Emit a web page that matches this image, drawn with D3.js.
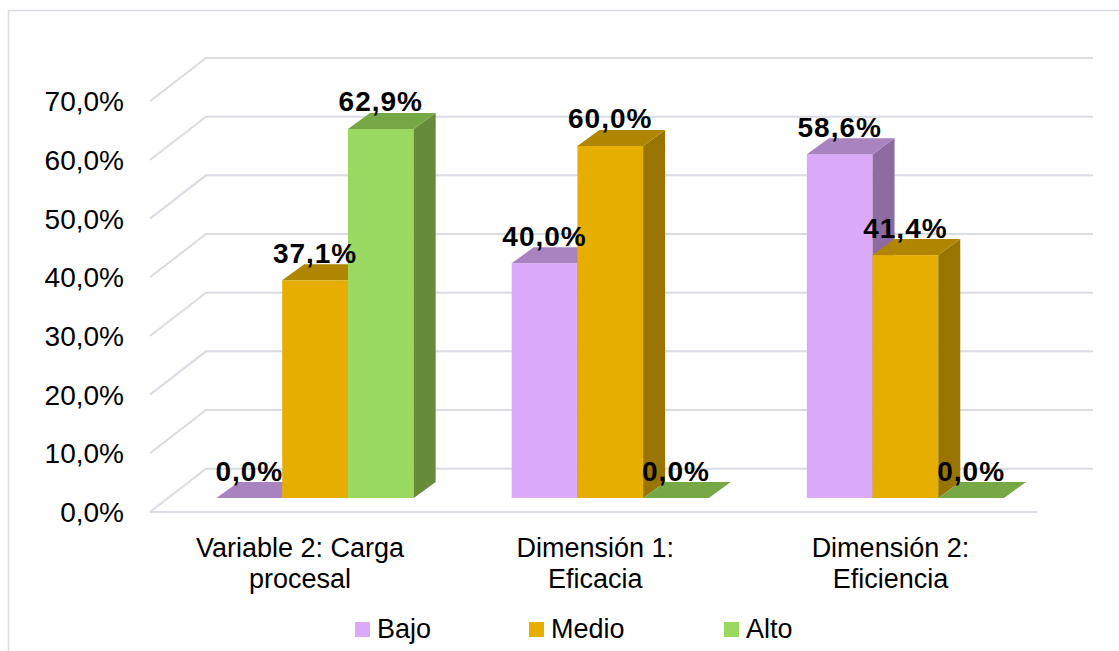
<!DOCTYPE html>
<html>
<head>
<meta charset="utf-8">
<script src="https://cdn.jsdelivr.net/npm/d3@7"></script>
<style>
  body { margin: 0; background: #fff; }
  text { font-family: "Liberation Sans", Arial, sans-serif; fill: #000; }
</style>
</head>
<body>
<div id="chart"></div>
<script>

const categories = [["Variable 2: Carga", "procesal"], ["Dimensión 1:", "Eficacia"], ["Dimensión 2:", "Eficiencia"]] ;
const series = ["Bajo", "Medio", "Alto"] ;
const bajo  = [0.0, 40.0, 58.6] ;
const medio = [37.1, 60.0, 41.4] ;
const alto  = [62.9, 0.0, 0.0] ;
const yTicks = [0, 10, 20, 30, 40, 50, 60, 70] ;

// front / top / side colours per series
const colors = {
  "Bajo":  {front: "#DAAAF9", top: "#A983BF", side: "#8D6BA1"},
  "Medio": {front: "#E6AF00", top: "#B08600", side: "#997400"},
  "Alto":  {front: "#99D960", top: "#76A845", side: "#668B3B"},
} ;

const values = {"Bajo": bajo, "Medio": medio, "Alto": alto} ;
const catKeys = categories.map((d) => d.join(" ")) ;

let dimensions = {
  width: 1119,
  height: 651,
}

const svg = d3.select("#chart").append("svg")
    .attr("width", dimensions.width)
    .attr("height", dimensions.height)
;

// outer frame (cut off on the right and bottom)
svg.append("path")
  .attr("d", "M8.5,660 L8.5,10.5 L1130,10.5")
  .attr("fill", "none")
  .attr("stroke", "#D9DCE3")
  .attr("stroke-width", 1.5)
;

// 3d offsets
const wallDepth = {dx: 56, dy: -43.3} ;
const barDepth = {dx: 22, dy: -16} ;

// front axis scale and the scale on the plane the bars stand on
const yFront = d3.scaleLinear().domain([0, 70]).range([512, 101.3]) ;
const yBar = d3.scaleLinear().domain([0, 70]).range([498, 87.3]) ;

const xScale = d3.scaleBand()
  .domain(catKeys)
  .range([167.5, 1053])
  .paddingInner(0.332)
  .paddingOuter(0.166)
;
const xInner = d3.scaleBand()
  .domain(series)
  .range([0, xScale.bandwidth()])
;

const frontLeft = 150 ;
const backRight = 1093 ;

// gridlines: diagonal on the side wall then across the back wall
const grid = svg.append("g") ;
yTicks.forEach((v) => {
  const y0 = yFront(v) ;
  grid.append("path")
    .attr("d", `M${frontLeft},${y0} L${frontLeft + wallDepth.dx},${y0 + wallDepth.dy} L${backRight},${y0 + wallDepth.dy}`)
    .attr("fill", "none")
    .attr("stroke", "#D9DCE3")
    .attr("stroke-width", 2)
  ;
}) ;
// floor front edge
grid.append("line")
  .attr("x1", frontLeft).attr("x2", backRight - wallDepth.dx)
  .attr("y1", yFront(0)).attr("y2", yFront(0))
  .attr("stroke", "#D9DCE3")
  .attr("stroke-width", 2)
;

// y axis labels
svg.append("g").selectAll("text")
  .data(yTicks)
  .enter().append("text")
    .attr("x", 124)
    .attr("y", (d) => yFront(d))
    .attr("dy", "0.36em")
    .attr("text-anchor", "end")
    .style("font-size", "28px")
    .text((d) => d.toFixed(1).replace(".", ",") + "%")
;

// bars, drawn left to right
const bars = [] ;
catKeys.forEach((c, i) => {
  series.forEach((s) => {
    bars.push({cat: c, series: s, value: values[s][i]}) ;
  }) ;
}) ;

const barG = svg.append("g") ;
bars.forEach((d) => {
  const x0 = xScale(d.cat) + xInner(d.series) ;
  const x1 = x0 + xInner.bandwidth() ;
  const yb = yBar(0) ;
  const yt = yBar(d.value) ;
  const c = colors[d.series] ;
  const dx = barDepth.dx, dy = barDepth.dy ;
  if (d.value > 0) {
    barG.append("rect")
      .attr("x", x0).attr("y", yt)
      .attr("width", x1 - x0).attr("height", yb - yt)
      .attr("fill", c.front)
    ;
    barG.append("path")
      .attr("d", `M${x1},${yb} L${x1 + dx},${yb + dy} L${x1 + dx},${yt + dy} L${x1},${yt} Z`)
      .attr("fill", c.side)
    ;
  }
  barG.append("path")
    .attr("d", `M${x0},${yt} L${x1},${yt} L${x1 + dx},${yt + dy} L${x0 + dx},${yt + dy} Z`)
    .attr("fill", c.top)
  ;
}) ;

// data labels
svg.append("g").selectAll("text")
  .data(bars)
  .enter().append("text")
    .attr("x", (d) => xScale(d.cat) + xInner(d.series) + xInner.bandwidth() / 2)
    .attr("y", (d) => yBar(d.value) + barDepth.dy - 1.5)
    .attr("text-anchor", "middle")
    .style("font-size", "28px")
    .style("font-weight", "bold")
    .style("letter-spacing", "1px")
    .text((d) => d.value.toFixed(1).replace(".", ",") + "%")
;

// category labels
const catG = svg.append("g").selectAll("text")
  .data(categories)
  .enter().append("text")
    .attr("x", (d, i) => xScale(catKeys[i]) + xScale.bandwidth() / 2 - 15)
    .attr("y", 557)
    .attr("text-anchor", "middle")
    .style("font-size", "27px")
;
catG.each(function(d) {
  const t = d3.select(this) ;
  const x = t.attr("x") ;
  d.forEach((line, j) => {
    t.append("tspan")
      .attr("x", x)
      .attr("dy", j == 0 ? 0 : 31)
      .text(line)
  }) ;
}) ;

// legend
const legendX = [355, 529, 724] ;
const legend = svg.append("g").selectAll("g")
  .data(series)
  .enter().append("g")
    .attr("transform", (d, i) => `translate(${legendX[i]}, 622)`)
;
legend.append("rect")
  .attr("width", 15).attr("height", 15)
  .attr("fill", (d) => colors[d].front)
;
legend.append("text")
  .attr("x", 22)
  .attr("y", 16)
  .style("font-size", "27px")
  .text((d) => d)
;

</script>
</body>
</html>
